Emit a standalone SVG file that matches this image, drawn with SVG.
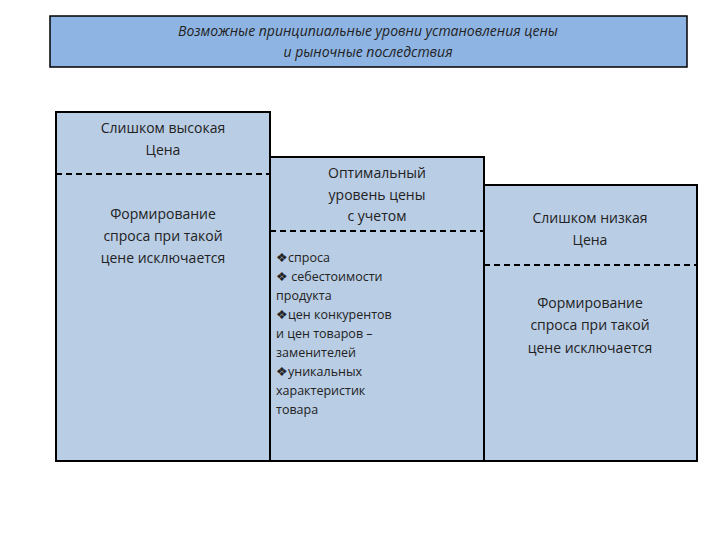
<svg xmlns="http://www.w3.org/2000/svg" width="720" height="540" viewBox="0 0 720 540">
<style>
.b{fill:#b9cde5;stroke:#000;stroke-width:2}
.d{stroke:#000;stroke-width:2;stroke-dasharray:6 4}
text{font-family:"Open Sans","Liberation Sans",sans-serif;fill:#222;font-size:14px}
.c{text-anchor:middle}
.s{font-size:12.5px}
</style>
<rect width="720" height="540" fill="#fff"/>
<g id="title"><rect x="50" y="16" width="637" height="51" fill="#8eb4e3" stroke="#000" stroke-width="1.5"/>
<text class="c" x="368" y="36" font-style="italic">Возможные принципиальные уровни установления цены</text>
<text class="c" x="368" y="57" font-style="italic">и рыночные последствия</text></g>
<g id="high"><rect class="b" x="56" y="112" width="214" height="349"/>
<line class="d" x1="56" y1="174" x2="270" y2="174"/>
<text class="c" x="163" y="133">Слишком  высокая</text>
<text class="c" x="163" y="155">Цена</text>
<text class="c" x="163" y="219">Формирование</text>
<text class="c" x="163" y="241">спроса при такой</text>
<text class="c" x="163" y="263">цене исключается</text></g>
<g id="optimal"><rect class="b" x="270" y="157" width="214" height="304"/>
<line class="d" x1="270" y1="231" x2="484" y2="231"/>
<text class="c" x="377" y="178">Оптимальный</text>
<text class="c" x="377" y="200">уровень цены</text>
<text class="c" x="377" y="221">с учетом</text>
<text class="s" x="276" y="262">❖спроса</text>
<text class="s" x="276" y="281">❖ себестоимости</text>
<text class="s" x="276" y="300">продукта</text>
<text class="s" x="276" y="319">❖цен конкурентов</text>
<text class="s" x="276" y="338">и цен товаров –</text>
<text class="s" x="276" y="357">заменителей</text>
<text class="s" x="276" y="376">❖уникальных</text>
<text class="s" x="276" y="395">характеристик</text>
<text class="s" x="276" y="414">товара</text></g>
<g id="low"><rect class="b" x="484" y="185" width="213" height="276"/>
<line class="d" x1="484" y1="265" x2="697" y2="265"/>
<text class="c" x="590" y="223">Слишком низкая</text>
<text class="c" x="590" y="245">Цена</text>
<text class="c" x="590" y="308">Формирование</text>
<text class="c" x="590" y="330">спроса при такой</text>
<text class="c" x="590" y="353">цене исключается</text></g>
<g id="connectors"/>
</svg>
